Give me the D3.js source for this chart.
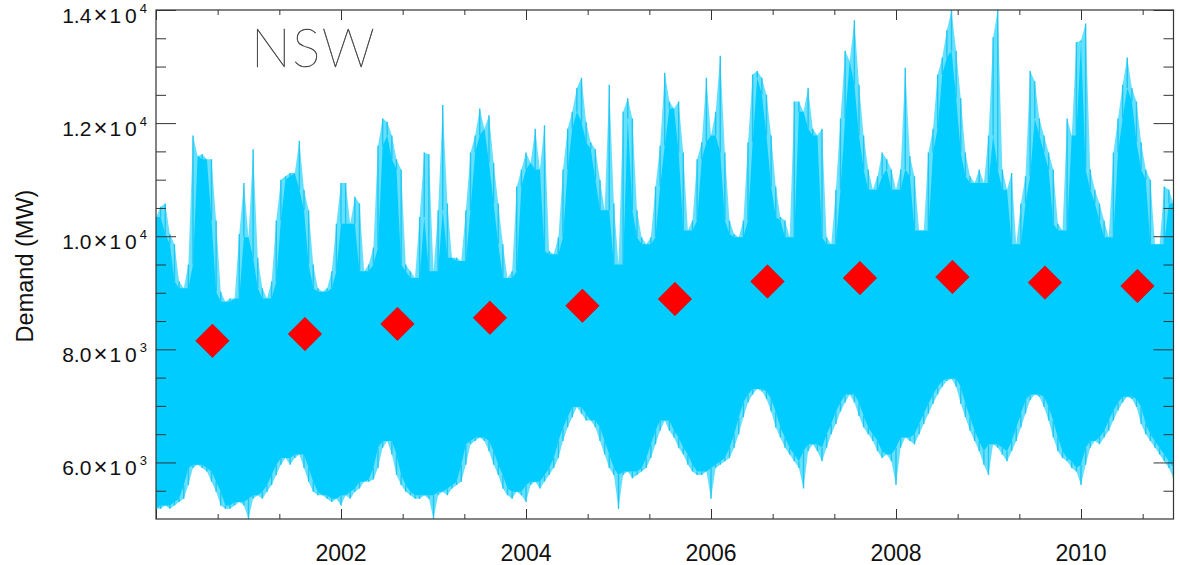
<!DOCTYPE html>
<html>
<head>
<meta charset="utf-8">
<script src="https://cdn.jsdelivr.net/npm/d3@7"></script>
<style>
  html, body { margin: 0; padding: 0; background: #ffffff; }
  svg { display: block; }
</style>
</head>
<body>
<svg id="chart" width="1180" height="565"></svg>
<script>
// Half-hourly NSW demand summarised as an envelope: highest and lowest
// demand (MW) in each 0.05-year slice, starting at 2000.0.
const sampleStart = 2000.0;
const sampleStep = 0.05;

const demandUpper = [
  10340,10520,10580,10040,9860,9200,9080,9500,11780,11420,11450,11360,11360,10280,9020,8840,8900,8900,10040,10940,
  9980,11540,9620,9080,8900,9200,10280,11000,11060,11120,11120,11690,10820,10460,9500,9080,9020,9080,9380,10220,
  10940,10940,10220,10700,10580,9380,9500,9800,11600,12080,12020,11780,11360,11180,9500,9380,9260,10340,11480,11450,
  9380,10460,12320,10580,9620,9620,9560,10460,11480,11780,12260,11900,12140,11300,10580,9860,9260,9380,10880,11180,
  11480,11300,11900,11180,11960,9740,9680,9980,11180,11900,12200,12620,12800,12020,11660,11540,11000,10460,12680,10580,
  9500,12200,12440,12080,10460,9980,9860,9980,10880,11600,12890,12380,12260,12380,11480,10100,10280,11360,11660,12800,
  11780,12200,13190,11480,10280,10040,9980,10280,11660,12860,12920,12800,12500,11780,10880,10340,10280,9980,12380,12380,
  12200,12620,11900,11780,11900,9980,9860,10820,12080,13280,13100,13820,12680,11780,11180,10820,11060,11480,11360,11180,
  10820,11180,12980,11420,11060,10100,10100,11480,11900,12860,13160,13640,14000,13280,12440,11480,11060,10940,11180,10940,
  11780,13520,14000,11180,10820,11120,9860,10580,11060,12920,12740,12080,11780,11480,11180,10220,10100,12080,11780,13430,
  13460,13760,11180,10820,10580,10280,9980,11480,12080,12680,13160,12620,12380,11660,11180,11000,9860,9860,10880,10820,
  10580
];

const demandLower = [
  5180,5180,5240,5180,5240,5300,5360,5600,5900,5960,5900,5840,5660,5480,5240,5180,5180,5240,5300,5240,
  5000,5360,5420,5360,5480,5600,5780,5960,6080,5960,6080,6140,5900,5660,5480,5420,5420,5360,5300,5360,
  5240,5420,5360,5480,5540,5660,5660,5700,5900,6260,6380,6140,5780,5600,5480,5420,5360,5360,5420,5360,
  5000,5420,5480,5420,5540,5600,5660,5960,6320,6380,6440,6380,6200,5960,5780,5540,5420,5360,5480,5420,
  5300,5600,5660,5540,5660,5780,5900,6080,6380,6620,6800,6980,6860,6740,6740,6620,6380,6140,5900,5780,
  5180,5780,5840,5720,5780,5840,5900,6080,6320,6560,6740,6560,6440,6260,6140,5960,5840,5780,5780,5840,
  5360,5900,5960,6020,6080,6260,6500,6800,7060,7200,7300,7260,7120,6900,6620,6440,6260,6140,6020,5900,
  5540,6200,6320,6200,6020,6260,6500,6680,6900,7060,7200,7060,6820,6620,6500,6380,6200,6080,6140,6020,
  5600,6260,6440,6380,6320,6500,6680,6860,7040,7200,7340,7440,7480,7340,7040,6800,6560,6380,6200,5960,
  5780,6320,6260,6140,6020,6200,6380,6620,6860,7100,7200,7160,6980,6740,6440,6200,6080,6020,5900,5840,
  5600,5960,6260,6380,6320,6440,6560,6740,6920,7060,7160,7120,6980,6680,6500,6380,6260,6140,6020,5900,
  5720
];

// Annual mean demand (MW), marked once per year
const meanTimes = [2000.61, 2001.61, 2002.61, 2003.61, 2004.61, 2005.61, 2006.61, 2007.61, 2008.61, 2009.61, 2010.61];
const meanDemand = [8150, 8270, 8450, 8560, 8770, 8890, 9200, 9260, 9280, 9180, 9120];

// Axis ticks and labels
const xMajorYears = [2000, 2002, 2004, 2006, 2008, 2010];
const xLabelYears = [2002, 2004, 2006, 2008, 2010];
const yMajorValues = [6000, 8000, 10000, 12000, 14000];
const yLabelMantissa = ["6.0", "8.0", "1.0", "1.2", "1.4"];
const yLabelExponent = ["3", "3", "4", "4", "4"];
const regionName = "NSW";
const yTitle = "Demand (MW)";

const svg = d3.select("#chart");
const W = 1180, H = 565;
const plotLeft = 156, plotRight = 1173.5, plotTop = 10, plotBottom = 519;

const x = d3.scaleLinear().domain([2000, 2011]).range([plotLeft, plotRight]);
const y = d3.scaleLinear().domain([5000, 14000]).range([plotBottom, plotTop]);

svg.append("rect").attr("width", W).attr("height", H).attr("fill", "#ffffff");

svg.append("defs").append("clipPath").attr("id", "plotClip")
  .append("rect").attr("x", plotLeft).attr("y", plotTop)
  .attr("width", plotRight - plotLeft).attr("height", plotBottom - plotTop);

// Demand band: each slice's extremes are brief excursions, so they are drawn
// as thin spikes over a faint fringe, around the dense body of the trace
// (the body follows the neighbouring slices' less extreme values).
const envelope = demandUpper.map((u, i) => {
  const lo = demandLower[i];
  const bodyHi = d3.min(demandUpper.slice(Math.max(0, i - 1), i + 2));
  const bodyLo = d3.max(demandLower.slice(Math.max(0, i - 1), i + 2));
  return { t: sampleStart + i * sampleStep, hi: u, lo, bodyHi, bodyLo };
});

const traceColor = "#00ccff";

const outerBand = d3.area()
  .x(d => x(d.t))
  .y0(d => y(d.lo))
  .y1(d => y(d.hi));

const bodyBand = d3.area()
  .x(d => x(d.t))
  .y0(d => y(d.bodyLo))
  .y1(d => y(d.bodyHi));

const plot = svg.append("g").attr("clip-path", "url(#plotClip)");
plot.append("path")
  .datum(envelope)
  .attr("d", outerBand)
  .attr("fill", traceColor)
  .attr("fill-opacity", 0.6);
plot.append("path")
  .datum(envelope)
  .attr("d", bodyBand)
  .attr("fill", traceColor);

// spikes reaching each slice's extremes
plot.append("g").selectAll("line.hi")
  .data(envelope)
  .join("line")
  .attr("x1", d => x(d.t)).attr("x2", d => x(d.t))
  .attr("y1", d => y(d.bodyHi)).attr("y2", d => y(d.hi))
  .attr("stroke", "#1ec6f3")
  .attr("stroke-width", 1.4);
plot.append("g").selectAll("line.lo")
  .data(envelope)
  .join("line")
  .attr("x1", d => x(d.t)).attr("x2", d => x(d.t))
  .attr("y1", d => y(d.bodyLo)).attr("y2", d => y(d.lo))
  .attr("stroke", "#1ec6f3")
  .attr("stroke-width", 1.4);

// Annual mean markers
const diamond = d3.symbol().type(d3.symbolSquare).size(560);
svg.append("g").selectAll("path")
  .data(meanDemand)
  .join("path")
  .attr("d", diamond)
  .attr("transform", (d, i) => `translate(${x(meanTimes[i])},${y(d)}) rotate(45)`)
  .attr("fill", "#ff0000")
  .attr("stroke", "#e00000")
  .attr("stroke-width", 0.6);

// Frame and ticks
const axisColor = "#333333";
const xMinor = d3.range(0, 17).map(k => 2000 + k * 2 / 3)
  .filter(v => v > 2000.01 && v < 2010.99 && Math.abs(v - Math.round(v)) > 0.01);
const yMinor = d3.range(5500, 14000, 500).filter(v => v % 2000 !== 0);

function drawAxis(axis, transform) {
  const g = svg.append("g").attr("transform", transform).call(axis);
  g.select(".domain").remove();
  g.selectAll("line").attr("stroke", axisColor).attr("stroke-width", 1);
  return g;
}

// bottom
drawAxis(d3.axisBottom(x).tickValues(xMajorYears).tickSize(-10).tickFormat(""), `translate(0,${plotBottom})`);
drawAxis(d3.axisBottom(x).tickValues(xMinor).tickSize(-5).tickFormat(""), `translate(0,${plotBottom})`);
// top
drawAxis(d3.axisTop(x).tickValues(xMajorYears).tickSize(-10).tickFormat(""), `translate(0,${plotTop})`);
drawAxis(d3.axisTop(x).tickValues(xMinor).tickSize(-5).tickFormat(""), `translate(0,${plotTop})`);
// left
drawAxis(d3.axisLeft(y).tickValues(yMajorValues).tickSize(-20).tickFormat(""), `translate(${plotLeft},0)`);
drawAxis(d3.axisLeft(y).tickValues(yMinor).tickSize(-10).tickFormat(""), `translate(${plotLeft},0)`);
// right
drawAxis(d3.axisRight(y).tickValues(yMajorValues).tickSize(-20).tickFormat(""), `translate(${plotRight},0)`);
drawAxis(d3.axisRight(y).tickValues(yMinor).tickSize(-10).tickFormat(""), `translate(${plotRight},0)`);

svg.append("rect")
  .attr("x", plotLeft).attr("y", plotTop)
  .attr("width", plotRight - plotLeft).attr("height", plotBottom - plotTop)
  .attr("fill", "none").attr("stroke", axisColor).attr("stroke-width", 1.2);

// Tick labels
const labelFont = "'Liberation Sans', Arial, Helvetica, sans-serif";
svg.append("g").selectAll("text")
  .data(xLabelYears)
  .join("text")
  .attr("x", d => x(d))
  .attr("y", 561)
  .attr("text-anchor", "middle")
  .attr("font-family", labelFont)
  .attr("font-size", 23)
  .attr("fill", "#111111")
  .text(d => d);

const yLabels = svg.append("g").selectAll("text")
  .data(yMajorValues)
  .join("text")
  .attr("x", 147)
  .attr("y", d => y(d) + 13)
  .attr("text-anchor", "end")
  .attr("font-family", labelFont)
  .attr("font-size", 21)
  .attr("fill", "#111111");
yLabels.append("tspan").text((d, i) => yLabelMantissa[i]);
yLabels.append("tspan").attr("dx", 2).attr("font-size", 24).text("\u00d7");
yLabels.append("tspan").attr("dx", 2).text("1");
yLabels.append("tspan").attr("dx", 4).text("0");
yLabels.append("tspan").attr("dx", 3).attr("dy", -10).attr("font-size", 13).text((d, i) => yLabelExponent[i]);

// Axis title
svg.append("text")
  .attr("transform", `translate(33,266) rotate(-90)`)
  .attr("text-anchor", "middle")
  .attr("font-family", labelFont)
  .attr("font-size", 23.5)
  .attr("fill", "#111111")
  .text(yTitle);

// Region name
svg.append("text")
  .attr("x", 251)
  .attr("y", 67)
  .attr("font-family", "Lato, 'Open Sans', sans-serif")
  .attr("font-weight", 200)
  .attr("font-size", 53)
  .attr("letter-spacing", 1.5)
  .attr("fill", "#404040")
  .attr("stroke", "#404040")
  .attr("stroke-width", 0.45)
  .text(regionName);
</script>
</body>
</html>
